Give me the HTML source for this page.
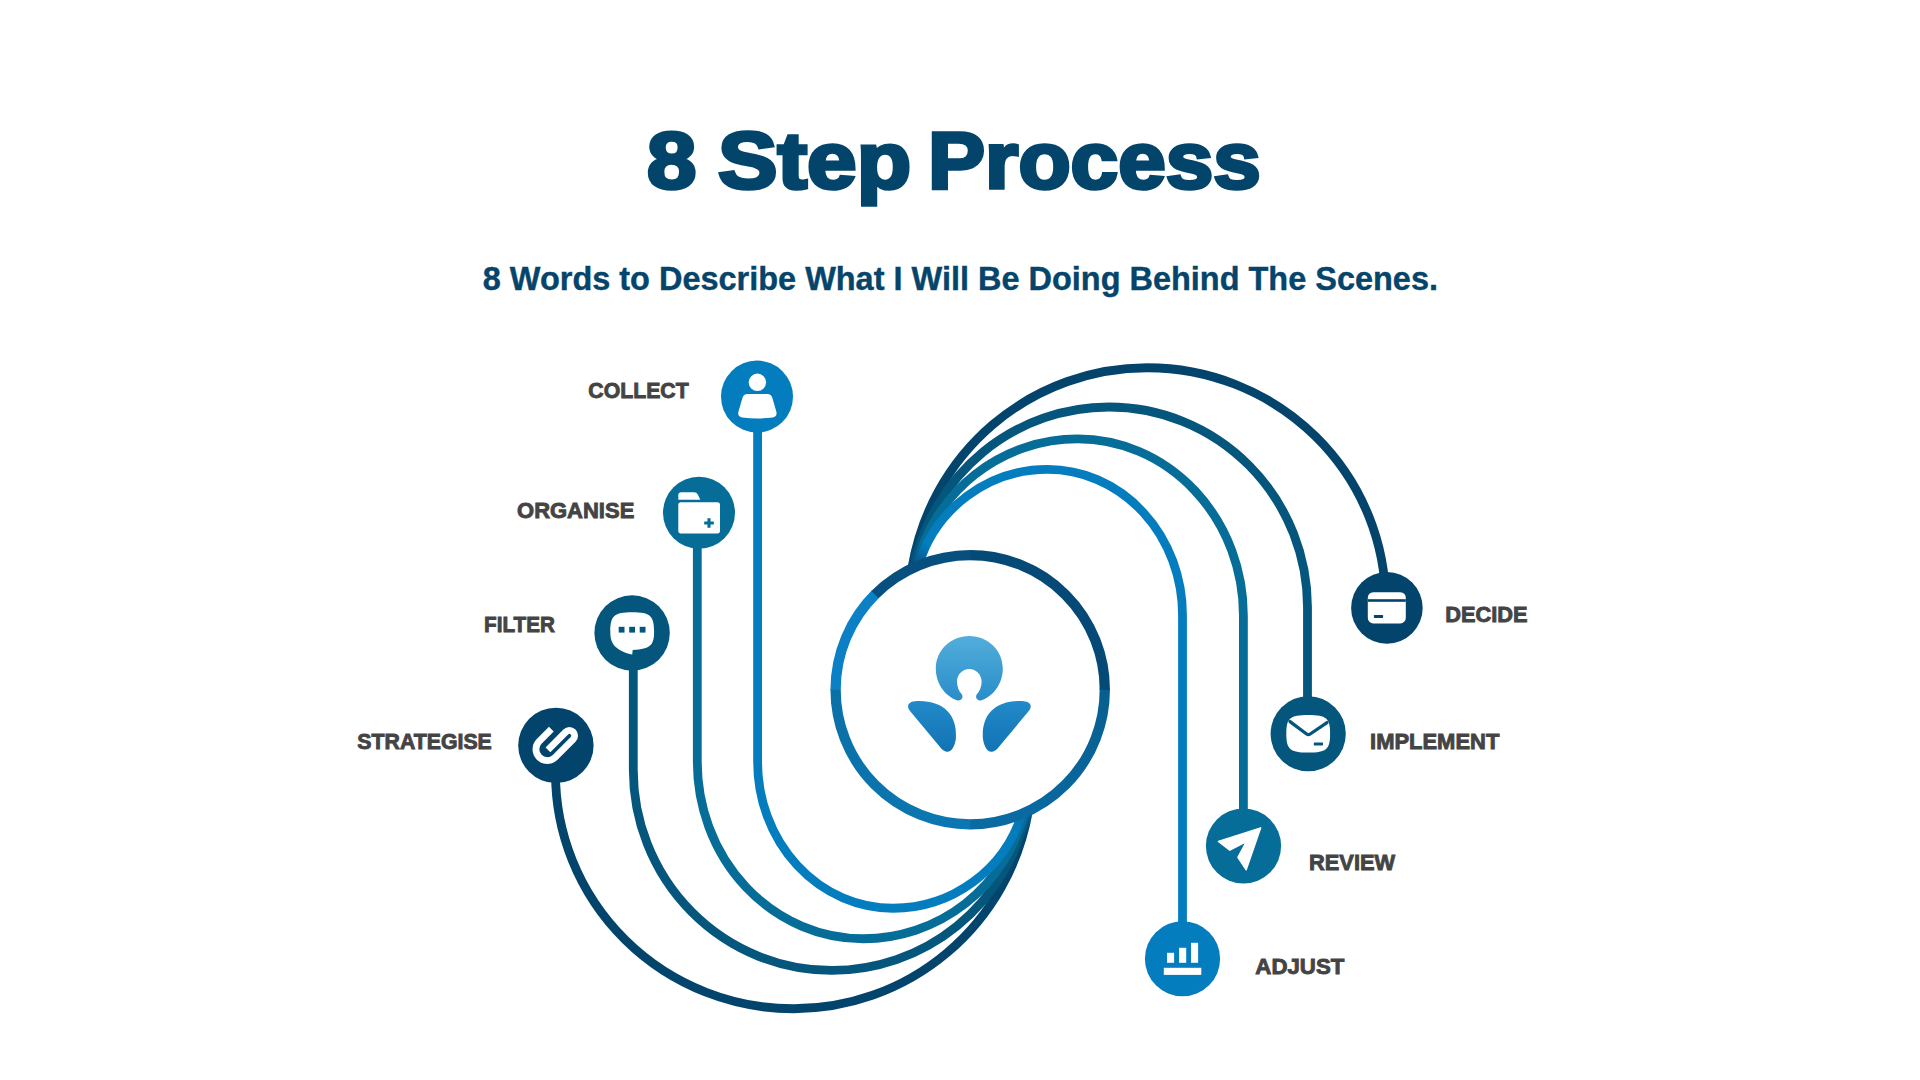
<!DOCTYPE html>
<html lang="en">
<head>
<meta charset="utf-8">
<title>8 Step Process</title>
<style>
html,body{margin:0;padding:0;background:#ffffff;}
body{width:1920px;height:1080px;overflow:hidden;}
svg{display:block;}
</style>
</head>
<body>
<svg width="1920" height="1080" viewBox="0 0 1920 1080">
<defs>
<linearGradient id="gC" gradientUnits="userSpaceOnUse" x1="1104" y1="690" x2="1020" y2="820"><stop offset="0" stop-color="#075f8f"/><stop offset="1" stop-color="#0a6aa2"/></linearGradient>
<linearGradient id="gD" gradientUnits="userSpaceOnUse" x1="970" y1="824" x2="836" y2="690"><stop offset="0" stop-color="#0b77b2"/><stop offset="1" stop-color="#0a70a8"/></linearGradient>
<linearGradient id="gHead" x1="0" y1="0" x2="0" y2="1"><stop offset="0" stop-color="#52aedb"/><stop offset="1" stop-color="#2a8dc9"/></linearGradient>
<linearGradient id="gLeaf" x1="0" y1="0" x2="0" y2="1"><stop offset="0" stop-color="#228aca"/><stop offset="1" stop-color="#1273b3"/></linearGradient>
</defs>
<rect width="1920" height="1080" fill="#ffffff"/>
<g fill="none" stroke-width="8.8" stroke-linecap="butt">
<path d="M555.5 745.4 L555.5 773.59 A238.16 235.16 0 0 0 793.66 1008.75 A238.16 238.16 0 0 0 1028.36 811.09" stroke="#03446c"/>
<path d="M1385.6 607.9 L1385.6 603.03 A238.28 235.28 0 0 0 1147.32 367.75 A238.28 238.28 0 0 0 912.04 568.31" stroke="#03446c"/>
<path d="M633.3 633 L633.3 769.88 A198.52 200.52 0 0 0 831.82 970.4 A198.52 198.52 0 0 0 1026.23 812.08" stroke="#05567c"/>
<path d="M1307.5 733.75 L1307.5 607.52 A198.52 200.52 0 0 0 1108.98 407 A198.52 198.52 0 0 0 914.17 567.32" stroke="#05567c"/>
<path d="M697.3 512.7 L697.3 762.09 A165.86 176.66 0 0 0 863.16 938.75 A165.86 165.86 0 0 0 1024.09 813.04" stroke="#066d98"/>
<path d="M1243.4 846 L1243.4 615.49 A165.79 176.59 0 0 0 1077.61 438.9 A165.79 165.79 0 0 0 916.31 566.36" stroke="#066d98"/>
<path d="M757.6 396.6 L757.6 761.9 A135.35 146.35 0 0 0 892.95 908.25 A135.35 135.35 0 0 0 1021.93 813.96" stroke="#047dbf"/>
<path d="M1182.5 958.75 L1182.5 615.27 A134.87 145.87 0 0 0 1047.63 469.4 A134.87 134.87 0 0 0 918.47 565.44" stroke="#047dbf"/>
</g>
<defs><radialGradient id="fTL" gradientUnits="userSpaceOnUse" cx="915" cy="566" r="24"><stop offset="0" stop-color="#06507f" stop-opacity="0.85"/><stop offset="0.45" stop-color="#06507f" stop-opacity="0.55"/><stop offset="1" stop-color="#06507f" stop-opacity="0"/></radialGradient>
<radialGradient id="fBR" gradientUnits="userSpaceOnUse" cx="1025.500" cy="812.5" r="24"><stop offset="0" stop-color="#0a68a0" stop-opacity="0.6"/><stop offset="0.45" stop-color="#0a68a0" stop-opacity="0.35"/><stop offset="1" stop-color="#0a68a0" stop-opacity="0"/></radialGradient>
<mask id="mR" maskUnits="userSpaceOnUse" x="0" y="0" width="1920" height="1080"><g fill="none" stroke="#fff" stroke-width="8.8"><path d="M1182.5 958.75 L1182.5 615.27 A134.87 145.87 0 0 0 1047.63 469.4 A134.87 134.87 0 0 0 918.47 565.44"/><path d="M1243.4 846 L1243.4 615.49 A165.79 176.59 0 0 0 1077.61 438.9 A165.79 165.79 0 0 0 916.31 566.36"/><path d="M1307.5 733.75 L1307.5 607.52 A198.52 200.52 0 0 0 1108.98 407 A198.52 198.52 0 0 0 914.17 567.32"/><path d="M1385.6 607.9 L1385.6 603.03 A238.28 235.28 0 0 0 1147.32 367.75 A238.28 238.28 0 0 0 912.04 568.31"/></g></mask>
<mask id="mL" maskUnits="userSpaceOnUse" x="0" y="0" width="1920" height="1080"><g fill="none" stroke="#fff" stroke-width="8.8"><path d="M757.6 396.6 L757.6 761.9 A135.35 146.35 0 0 0 892.95 908.25 A135.35 135.35 0 0 0 1021.93 813.96"/><path d="M697.3 512.7 L697.3 762.09 A165.86 176.66 0 0 0 863.16 938.75 A165.86 165.86 0 0 0 1024.09 813.04"/><path d="M633.3 633 L633.3 769.88 A198.52 200.52 0 0 0 831.82 970.4 A198.52 198.52 0 0 0 1026.23 812.08"/><path d="M555.5 745.4 L555.5 773.59 A238.16 235.16 0 0 0 793.66 1008.75 A238.16 238.16 0 0 0 1028.36 811.09"/></g></mask></defs>
<circle cx="915" cy="566" r="24" fill="url(#fTL)" mask="url(#mR)"/>
<circle cx="1025.5" cy="812.5" r="24" fill="url(#fBR)" mask="url(#mL)"/>
<g fill="none" stroke-width="10.3">
<path d="M1104.79 688.53 A134.6 134.6 0 0 1 969.5 824.3" stroke="url(#gC)"/>
<path d="M970.2 824.3 A134.6 134.6 0 0 1 835.6 689" stroke="url(#gD)"/>
<path d="M835.6 689.7 A134.6 134.6 0 0 1 875.52 594.03" stroke="#0b80c4"/>
<path d="M875.02 594.52 A134.6 134.6 0 0 1 970.9 555.1" stroke="#074f7e"/>
<path d="M970.2 555.1 A134.6 134.6 0 0 1 1104.8 689.7" stroke="#054a77"/>
</g>
<g id="logo">
<path fill="url(#gHead)" fill-rule="evenodd" d="M969.3 636 C988 636 1002.8 650.5 1002.8 668.5 C1002.8 684 993 696.5 981.5 700.2 C977.5 701.3 975 698.2 976.6 694.6 C980 690.8 981.6 686.5 981.6 681.5 C981.6 674.6 976.2 669 969.3 669 C962.4 669 957 674.6 957 681.5 C957 686.5 958.6 690.8 962 694.6 C963.6 698.2 961.1 701.3 957.1 700.2 C945.6 696.5 935.8 684 935.8 668.5 C935.8 650.5 950.6 636 969.3 636 Z"/>
<path fill="url(#gLeaf)" d="M909.6 710.5 C905.8 705 909.5 701.6 915 701.2 C943 699.6 957.6 714.5 955.9 738.5 C955 746 951.5 752.5 946.5 751.7 C943.5 751.2 942 749.5 940 747 Z"/>
<path fill="url(#gLeaf)" d="M1029.2 710.5 C1033 705 1029.300 701.6 1023.8 701.2 C995.8 699.6 981.2 714.5 982.9 738.5 C983.8 746 987.3 752.5 992.3 751.7 C995.3 751.2 996.8 749.5 998.8 747 Z"/>
</g>
<circle cx="757" cy="396.6" r="36" fill="#047dbf"/>
<circle cx="1182.5" cy="958.75" r="37.6" fill="#047dbf"/>
<circle cx="699" cy="512.7" r="36" fill="#066d98"/>
<circle cx="1243.5" cy="846" r="37.6" fill="#066d98"/>
<circle cx="632.1" cy="633" r="37.7" fill="#05567c"/>
<circle cx="1308.2" cy="733.75" r="37.6" fill="#05567c"/>
<circle cx="555.9" cy="745.4" r="37.7" fill="#03446c"/>
<circle cx="1386.9" cy="607.9" r="35.8" fill="#03446c"/>
<g fill="#ffffff">
<circle cx="757.4" cy="382.3" r="8.7"/>
<path d="M747.6 393.9 L767.2 393.9 Q771.3 393.9 772.4 397.9 L776.3 411.6 Q777.6 416.6 772.6 417.4 Q757.4 419.5 742.2 417.4 Q737.2 416.6 738.5 411.6 L742.4 397.9 Q743.5 393.9 747.6 393.9 Z"/>
</g>
<g fill="#ffffff">
<path d="M678.3 499.7 L678.3 495.2 Q678.3 492.2 681.3 492.2 L694 492.2 Q696.6 492.2 697.8 494.6 L700.3 499.7 Z"/>
<rect x="678.3" y="502.2" width="41.7" height="31.2" rx="2.6"/>
</g>
<path d="M704.2 523 H713.8 M709 518.2 V527.8" stroke="#066d98" stroke-width="3.1" fill="none"/>
<path fill="#ffffff" d="M632.2 612.2 C650.4 612.2 654.1 616 654.1 631.3 C654.1 644.8 651.2 649 632.7 650 L632.2 654.5 C625.5 653.4 617.3 649.6 613.4 644.4 C610.8 640.8 610.3 637 610.3 631.3 C610.3 616 614 612.2 632.2 612.2 Z"/>
<g fill="#05567c"><rect x="618.7" y="626.8" width="5.8" height="5.8"/><rect x="629.2" y="626.8" width="5.8" height="5.8"/><rect x="639.7" y="626.8" width="5.8" height="5.8"/></g>
<path d="M551.34 729.17 L539.16 741.34 A11.3 11.3 0 0 0 555.14 757.32 L573.11 739.35 A5.21 5.21 0 0 0 565.74 731.98 L547.93 749.79" fill="none" stroke="#ffffff" stroke-width="6.8" stroke-linejoin="round"/>
<rect x="1367.8" y="592.2" width="38" height="31.2" rx="5.5" fill="#ffffff"/>
<rect x="1367.8" y="599.2" width="38" height="2.6" fill="#03446c"/>
<rect x="1373.9" y="615" width="9.2" height="2.9" rx="0.6" fill="#03446c"/>
<path fill="#ffffff" d="M1308.2 715.1 C1326.6 715.1 1330.1 718.4 1330.1 733.8 C1330.1 749.3 1326.6 752.6 1308.2 752.6 C1289.8 752.6 1286.3 749.3 1286.3 733.8 C1286.3 718.4 1289.8 715.1 1308.2 715.1 Z"/>
<path d="M1290 721.6 L1306.6 734 Q1308.4 735.3 1310.2 734 L1327 722.6" stroke="#05567c" stroke-width="3.3" fill="none" stroke-linecap="round" stroke-linejoin="round"/>
<rect x="1313.8" y="742.5" width="9.2" height="2.9" rx="0.6" fill="#05567c"/>
<path fill="#ffffff" stroke="#ffffff" stroke-width="1.4" stroke-linejoin="round" d="M1260.7 827.8 L1218.4 841.4 L1229.8 850.2 L1246.4 841.6 L1237.9 857.4 L1246.2 869.8 Z"/>
<g fill="#ffffff"><rect x="1167" y="952.8" width="7.1" height="10"/><rect x="1179.1" y="947.8" width="7.1" height="15"/><rect x="1191" y="942.8" width="7.1" height="20"/><rect x="1163.8" y="967.8" width="37.5" height="7.1"/></g>
<text x="588.35" y="398.35" textLength="100.3" lengthAdjust="spacingAndGlyphs" style="font-family:'Liberation Sans',sans-serif;font-weight:700;font-size:22.6px" fill="#444444" stroke="#444444" stroke-width="0.9" stroke-linejoin="miter">COLLECT</text>
<text x="517.05" y="517.95" textLength="117.25" lengthAdjust="spacingAndGlyphs" style="font-family:'Liberation Sans',sans-serif;font-weight:700;font-size:22.6px" fill="#444444" stroke="#444444" stroke-width="0.9" stroke-linejoin="miter">ORGANISE</text>
<text x="484.05" y="631.75" textLength="70.9" lengthAdjust="spacingAndGlyphs" style="font-family:'Liberation Sans',sans-serif;font-weight:700;font-size:22.6px" fill="#444444" stroke="#444444" stroke-width="0.9" stroke-linejoin="miter">FILTER</text>
<text x="357.35" y="748.55" textLength="134.45" lengthAdjust="spacingAndGlyphs" style="font-family:'Liberation Sans',sans-serif;font-weight:700;font-size:22.6px" fill="#444444" stroke="#444444" stroke-width="0.9" stroke-linejoin="miter">STRATEGISE</text>
<text x="1445.25" y="622.45" textLength="82.2" lengthAdjust="spacingAndGlyphs" style="font-family:'Liberation Sans',sans-serif;font-weight:700;font-size:22.6px" fill="#444444" stroke="#444444" stroke-width="0.9" stroke-linejoin="miter">DECIDE</text>
<text x="1370.05" y="748.65" textLength="129.25" lengthAdjust="spacingAndGlyphs" style="font-family:'Liberation Sans',sans-serif;font-weight:700;font-size:22.6px" fill="#444444" stroke="#444444" stroke-width="0.9" stroke-linejoin="miter">IMPLEMENT</text>
<text x="1309.05" y="869.55" textLength="86.1" lengthAdjust="spacingAndGlyphs" style="font-family:'Liberation Sans',sans-serif;font-weight:700;font-size:22.6px" fill="#444444" stroke="#444444" stroke-width="0.9" stroke-linejoin="miter">REVIEW</text>
<text x="1255.35" y="974.15" textLength="88.95" lengthAdjust="spacingAndGlyphs" style="font-family:'Liberation Sans',sans-serif;font-weight:700;font-size:22.6px" fill="#444444" stroke="#444444" stroke-width="0.9" stroke-linejoin="miter">ADJUST</text>
<text y="188.0" style="font-family:'Liberation Sans',sans-serif;font-weight:700;font-size:79.4px" fill="#03446b" stroke="#03446b" stroke-width="3.6" stroke-linejoin="miter" stroke-miterlimit="3"><tspan x="647.02" textLength="49.37" lengthAdjust="spacingAndGlyphs">8</tspan> <tspan x="717.96" textLength="193.18" lengthAdjust="spacingAndGlyphs">Step</tspan> <tspan x="928.09" textLength="332.79" lengthAdjust="spacingAndGlyphs">Process</tspan></text>
<text x="482.8" y="289.6" textLength="955.2" lengthAdjust="spacingAndGlyphs" style="font-family:'Liberation Sans',sans-serif;font-weight:700;font-size:32.4px" fill="#05446b" stroke="#05446b" stroke-width="0.4">8 Words to Describe What I Will Be Doing Behind The Scenes.</text>
</svg>
</body>
</html>
